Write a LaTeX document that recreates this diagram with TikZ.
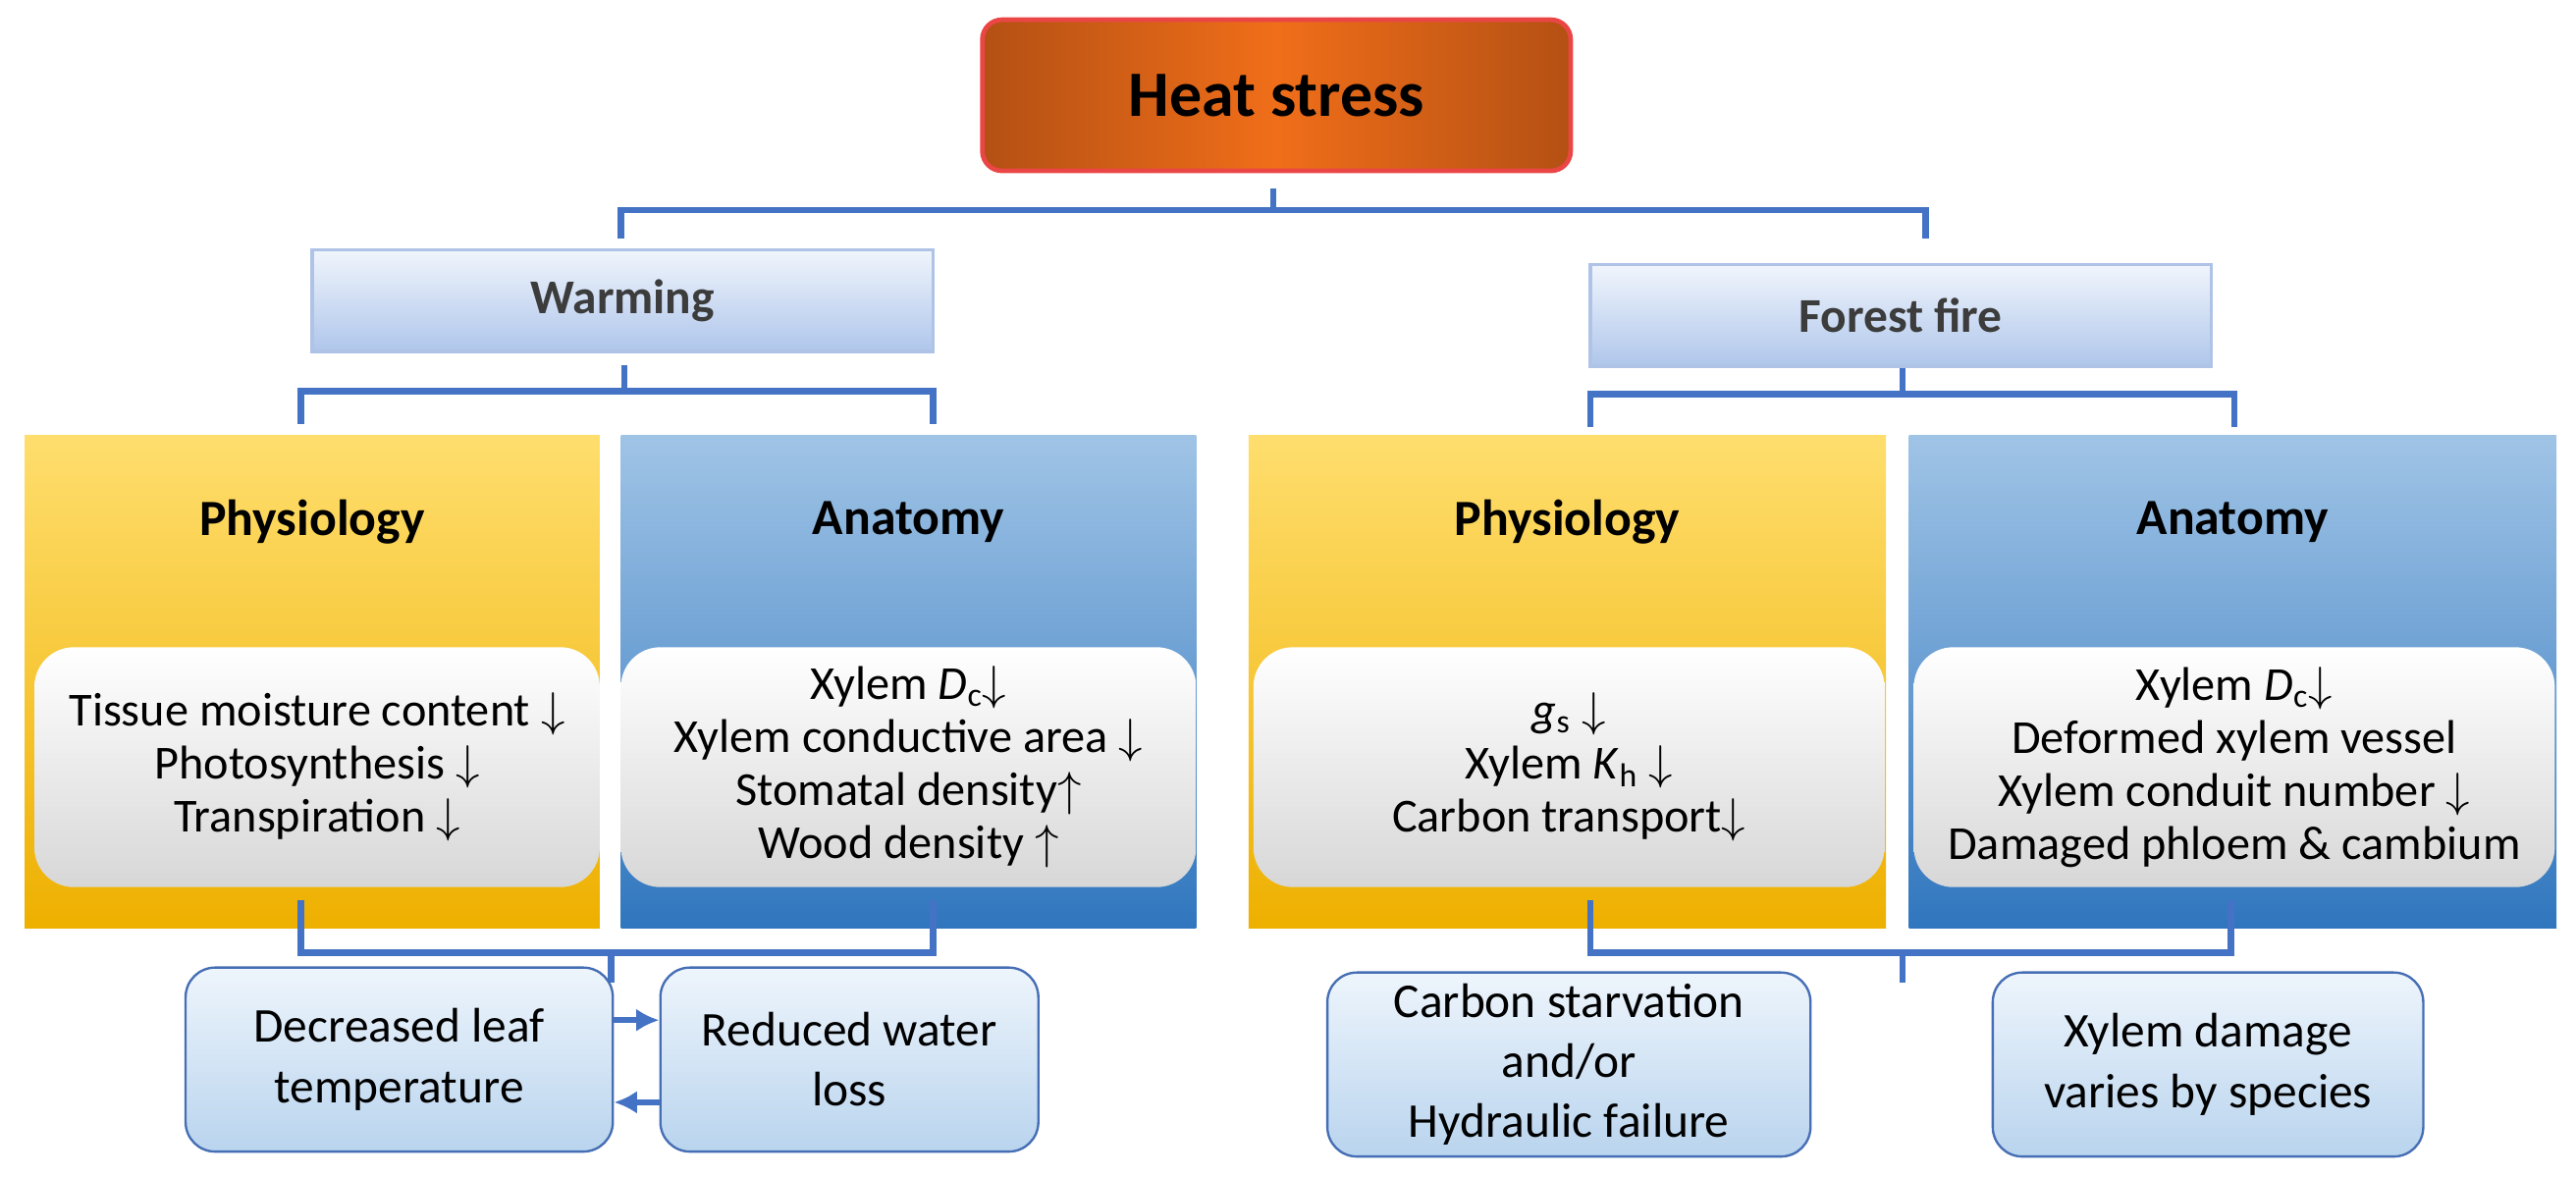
\documentclass[tikz,border=0pt]{standalone}
\usepackage{fontspec}
\setmainfont{Carlito}
\usetikzlibrary{positioning,arrows.meta}
\definecolor{brace}{RGB}{68,114,196}
\definecolor{edgeblue}{RGB}{70,110,180}
\newcommand{\dn}{$\downarrow$}
\newcommand{\up}{$\uparrow$}
\tikzset{
  panelY/.style={rectangle, minimum width=8.75cm, minimum height=7.5cm, top color={rgb,255:red,255;green,222;blue,110}, bottom color={rgb,255:red,238;green,176;blue,0}},
  panelB/.style={rectangle, minimum width=8.75cm, minimum height=7.5cm, top color={rgb,255:red,160;green,196;blue,230}, bottom color={rgb,255:red,48;green,118;blue,190}},
  inner/.style={rectangle, rounded corners=0.6cm, top color=white, bottom color={rgb,255:red,215;green,215;blue,215}, minimum height=3.65cm, align=center, font=\fontsize{20.5}{23}\selectfont, inner sep=2pt},
  head/.style={font=\bfseries\fontsize{22}{26}\selectfont},
  sub/.style={rectangle, draw={rgb,255:red,175;green,195;blue,230}, line width=1.5pt, top color={rgb,255:red,240;green,245;blue,252}, bottom color={rgb,255:red,175;green,198;blue,235}, minimum height=1.55cm, font=\bfseries\fontsize{21}{24}\selectfont, text={rgb,255:red,60;green,60;blue,60}},
  result/.style={rectangle, rounded corners=0.45cm, draw=edgeblue, line width=1pt, top color={rgb,255:red,238;green,245;blue,252}, bottom color={rgb,255:red,185;green,212;blue,238}, align=center, font=\fontsize{21}{26}\selectfont, minimum height=2.8cm},
  br/.style={draw=brace, line width=2.8pt}
}
\begin{document}
\begin{tikzpicture}[x=0.025cm, y=-0.025cm]
  \useasboundingbox (0,0) rectangle (1568,716);
  % top
  \node[rectangle, rounded corners=0.3cm, draw={rgb,255:red,235;green,70;blue,70}, line width=2pt, left color={rgb,255:red,180;green,80;blue,20}, right color={rgb,255:red,180;green,80;blue,20}, middle color={rgb,255:red,240;green,110;blue,25}, minimum width=8.95cm, minimum height=2.3cm, font=\bfseries\fontsize{28}{32}\selectfont] (heat) at (777,58) {Heat stress};
  \draw[br] (775,115) -- (775,128) (378,145) -- (378,128) -- (1172,128) -- (1172,145);
  \node[sub, minimum width=9.45cm] (warm) at (379,183) {Warming};
  \node[sub, minimum width=9.45cm] (fire) at (1157,192) {Forest fire};
  \draw[br] (380,222) -- (380,238) (183,258) -- (183,238) -- (568,238) -- (568,258);
  \draw[br] (1158,224) -- (1158,240) (968,260) -- (968,240) -- (1360,240) -- (1360,260);
  % panels
  \node[panelY] (phys1) at (190,415) {};
  \node[panelB] (anat1) at (553,415) {};
  \node[panelY, minimum width=9.7cm] (phys2) at (954,415) {};
  \node[panelB, minimum width=9.85cm] (anat2) at (1359,415) {};
  \node[head] at (190,318) {Physiology};
  \node[head] at (553,318) {Anatomy};
  \node[head] at (954,318) {Physiology};
  \node[head] at (1359,318) {Anatomy};
  \node[inner, minimum width=8.6cm] (in1) at (193,467) {Tissue moisture content \dn\\Photosynthesis \dn\\Transpiration \dn};
  \node[inner, minimum width=8.75cm] (in2) at (553,467) {Xylem \textit{D}\textsubscript{c}\dn\\Xylem conductive area \dn\\Stomatal density\up\\Wood density \up};
  \node[inner, minimum width=9.6cm] (in3) at (955,467) {\textit{g}\textsubscript{s} \dn\\Xylem \textit{K}\textsubscript{h} \dn\\Carbon transport\dn};
  \node[inner, minimum width=9.75cm] (in4) at (1360,467) {Xylem \textit{D}\textsubscript{c}\dn\\Deformed xylem vessel\\Xylem conduit number \dn\\Damaged phloem \& cambium};
  % bottom braces
  \draw[br] (183,548) -- (183,580) -- (568,580) -- (568,548) (372,580) -- (372,598);
  \draw[br] (968,548) -- (968,580) -- (1358,580) -- (1358,548) (1158,580) -- (1158,598);
  % results
  \node[result, minimum width=6.5cm] (leaf) at (243,645) {Decreased leaf\\temperature};
  \node[result, minimum width=5.75cm] (water) at (517,645) {Reduced water\\loss};
  \node[result, minimum width=7.35cm] (carbon) at (955,648) {Carbon starvation\\and/or\\Hydraulic failure};
  \node[result, minimum width=6.55cm] (damage) at (1344,648) {Xylem damage\\varies by species};
  \draw[-{Latex[length=0.35cm,width=0.35cm]}, draw=brace, line width=2.5pt] ([yshift=0.6cm]leaf.east) -- ([yshift=0.6cm]water.west);
  \draw[-{Latex[length=0.35cm,width=0.35cm]}, draw=brace, line width=2.5pt] ([yshift=-0.65cm]water.west) -- ([yshift=-0.65cm]leaf.east);
\end{tikzpicture}
\end{document}
